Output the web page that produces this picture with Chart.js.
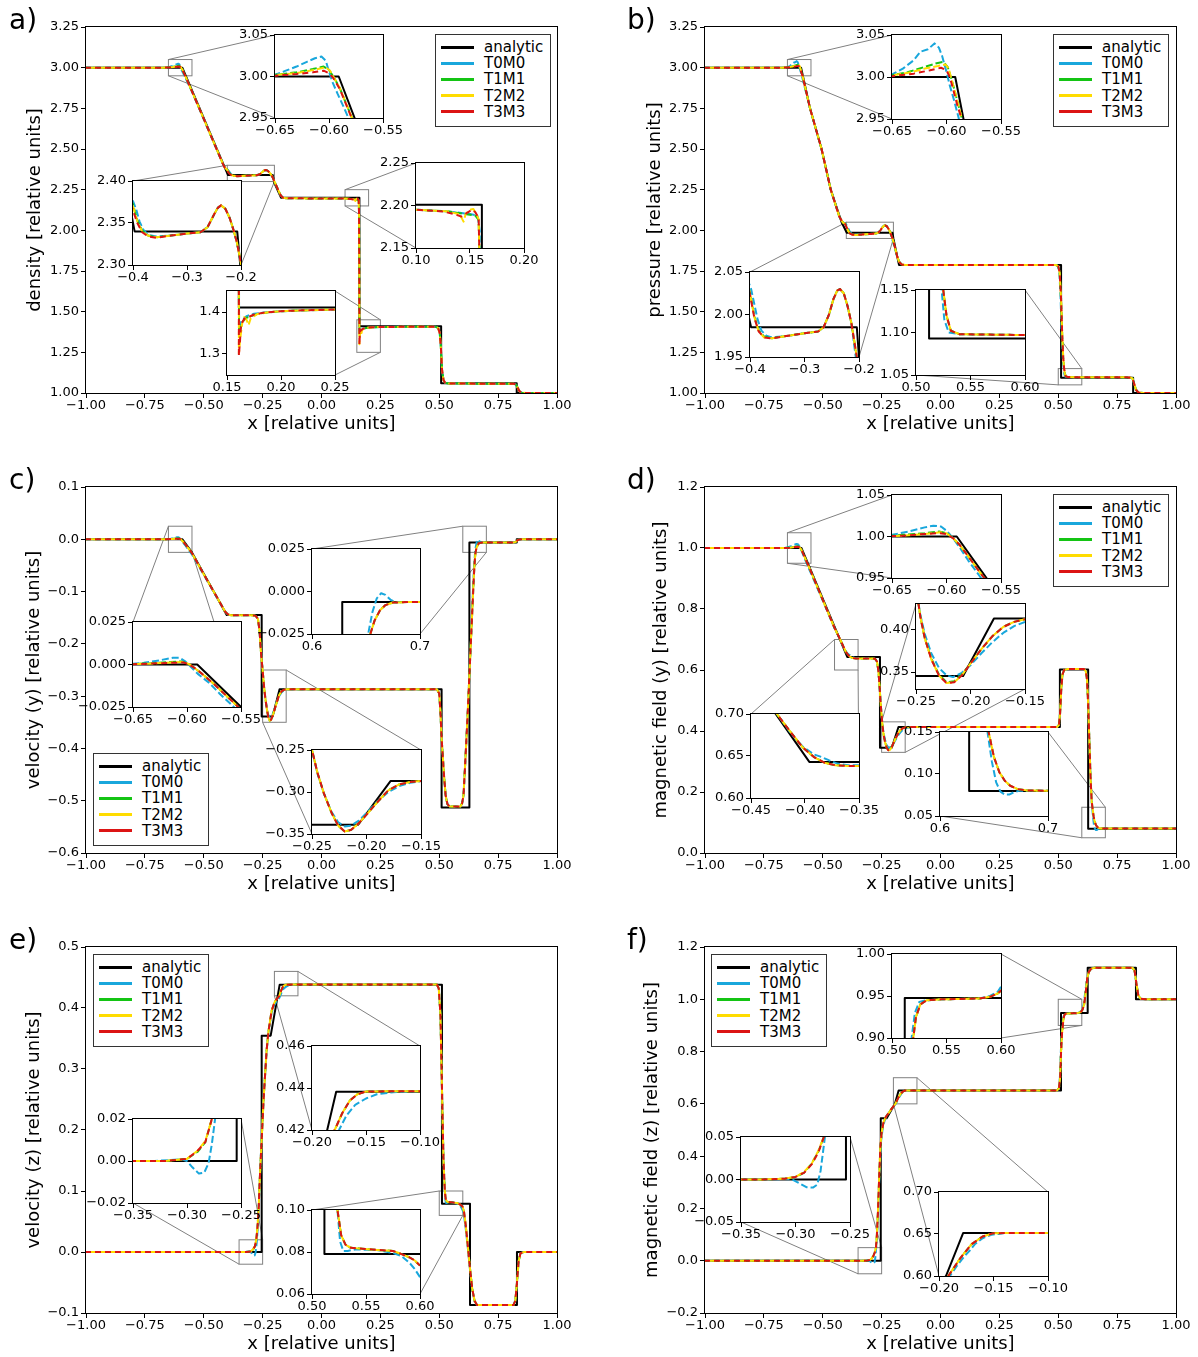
<!DOCTYPE html>
<html>
<head>
<meta charset="utf-8">
<script src="https://cdn.jsdelivr.net/npm/chart.js@4.4.1/dist/chart.umd.min.js"></script>
<style>
  body { margin: 0; background: #fff; }
  #fig { position: relative; width: 1198px; height: 1357px; overflow: hidden; font-family: "DejaVu Sans", sans-serif; }
  #fig canvas { position: absolute; }
  .plabel { position: absolute; font-size: 28px; line-height: 28px; color: #000; }
  .legend { position: absolute; width: 114px; height: 91px; border: 1px solid #333; background: #fff; }
  .legend .ln { position: absolute; left: 5px; width: 33px; height: 3px; }
  .legend .tx { position: absolute; left: 48px; font-size: 15px; line-height: 18px; color: #000; }
</style>
</head>
<body>
<div id="fig"></div>
<script>
// ---------- series names / ticks ----------
const seriesNames = ["analytic", "T0M0", "T1M1", "T2M2", "T3M3"];

const xTicksMain = [-1, -0.75, -0.5, -0.25, 0, 0.25, 0.5, 0.75, 1];
const densTicks = [1, 1.25, 1.5, 1.75, 2, 2.25, 2.5, 2.75, 3, 3.25];
const presTicks = [1, 1.25, 1.5, 1.75, 2, 2.25, 2.5, 2.75, 3, 3.25];
const vyTicks = [-0.6, -0.5, -0.4, -0.3, -0.2, -0.1, 0, 0.1];
const byTicks = [0, 0.2, 0.4, 0.6, 0.8, 1, 1.2];
const vzTicks = [-0.1, 0, 0.1, 0.2, 0.3, 0.4, 0.5];
const bzTicks = [-0.2, 0, 0.2, 0.4, 0.6, 0.8, 1, 1.2];

// inset ticks
const tkX065 = [-0.65, -0.6, -0.55];
const tkX04 = [-0.4, -0.3, -0.2];
const tkX010 = [0.1, 0.15, 0.2];
const tkX015 = [0.15, 0.2, 0.25];
const tkX050 = [0.5, 0.55, 0.6];
const tkX06 = [0.6, 0.7];
const tkX025 = [-0.25, -0.2, -0.15];
const tkX045 = [-0.45, -0.4, -0.35];
const tkX035 = [-0.35, -0.3, -0.25];
const tkX020 = [-0.2, -0.15, -0.1];
const tkY295 = [2.95, 3, 3.05];
const tkY230 = [2.3, 2.35, 2.4];
const tkY215 = [2.15, 2.2, 2.25];
const tkY13 = [1.3, 1.4];
const tkY195 = [1.95, 2, 2.05];
const tkY105 = [1.05, 1.1, 1.15];
const tkY0025 = [-0.025, 0, 0.025];
const tkY035 = [-0.35, -0.3, -0.25];
const tkY095 = [0.95, 1, 1.05];
const tkY035b = [0.35, 0.4];
const tkY060 = [0.6, 0.65, 0.7];
const tkY005 = [0.05, 0.1, 0.15];
const tkY002 = [-0.02, 0, 0.02];
const tkY042 = [0.42, 0.44, 0.46];
const tkY006 = [0.06, 0.08, 0.1];
const tkY090 = [0.9, 0.95, 1];
const tkY005b = [-0.05, 0, 0.05];

// ---------- a) density ----------
const densAnalytic = [[-1,3],[-0.591,3],[-0.397,2.34],[-0.207,2.34],[-0.2,2.29],[-0.172,2.201],[0.161,2.201],[0.161,1.411],[0.508,1.411],[0.508,1.06],[0.829,1.06],[0.829,1],[1,1]];
const densT0M0 = [[-1,3],[-0.67,3],[-0.65,3.002],[-0.64,3.007],[-0.63,3.012],[-0.62,3.018],[-0.613,3.022],[-0.607,3.024],[-0.603,3.019],[-0.6,3.006],[-0.597,2.994],[-0.592,2.979],[-0.587,2.965],[-0.582,2.95],[-0.55,2.853],[-0.5,2.684],[-0.45,2.514],[-0.42,2.413],[-0.41,2.387],[-0.4,2.376],[-0.394,2.366],[-0.388,2.352],[-0.381,2.342],[-0.372,2.336],[-0.357,2.334],[-0.33,2.335],[-0.3,2.3375],[-0.275,2.339],[-0.262,2.345],[-0.25,2.36],[-0.243,2.368],[-0.237,2.371],[-0.229,2.367],[-0.221,2.356],[-0.214,2.342],[-0.208,2.328],[-0.203,2.312],[-0.199,2.298],[-0.19,2.268],[-0.18,2.236],[-0.172,2.212],[-0.163,2.2],[-0.15,2.197],[0,2.196],[0.1,2.195],[0.13,2.193],[0.15,2.19],[0.157,2.188],[0.159,2.17],[0.1603,2],[0.161,1.6],[0.1612,1.375],[0.162,1.37],[0.164,1.381],[0.168,1.39],[0.175,1.396],[0.19,1.4],[0.21,1.403],[0.25,1.406],[0.4,1.407],[0.485,1.407],[0.495,1.4],[0.502,1.37],[0.507,1.28],[0.512,1.14],[0.518,1.08],[0.525,1.063],[0.54,1.058],[0.815,1.057],[0.825,1.053],[0.832,1.035],[0.84,1.012],[0.85,1.002],[0.87,1],[1,1]];
const densT1M1 = [[-1,3],[-0.67,3],[-0.65,3.002],[-0.63,3.005],[-0.615,3.009],[-0.605,3.012],[-0.6,3.008],[-0.596,3],[-0.59,2.986],[-0.585,2.97],[-0.579,2.951],[-0.55,2.854],[-0.5,2.685],[-0.45,2.515],[-0.42,2.413],[-0.41,2.386],[-0.4,2.372],[-0.392,2.353],[-0.383,2.341],[-0.372,2.335],[-0.357,2.333],[-0.33,2.335],[-0.3,2.3375],[-0.275,2.339],[-0.262,2.345],[-0.25,2.36],[-0.243,2.368],[-0.237,2.371],[-0.229,2.367],[-0.221,2.356],[-0.214,2.342],[-0.208,2.328],[-0.203,2.312],[-0.199,2.298],[-0.19,2.268],[-0.18,2.236],[-0.172,2.212],[-0.163,2.2],[-0.15,2.197],[0,2.196],[0.1,2.195],[0.13,2.193],[0.145,2.19],[0.155,2.188],[0.158,2.183],[0.1595,2.1],[0.1605,1.8],[0.161,1.45],[0.1612,1.35],[0.162,1.355],[0.164,1.375],[0.167,1.385],[0.172,1.39],[0.18,1.397],[0.2,1.402],[0.22,1.404],[0.25,1.406],[0.4,1.407],[0.485,1.407],[0.495,1.4],[0.502,1.37],[0.507,1.28],[0.512,1.14],[0.518,1.08],[0.525,1.063],[0.54,1.058],[0.815,1.057],[0.825,1.053],[0.832,1.035],[0.84,1.012],[0.85,1.002],[0.87,1],[1,1]];
const densT2M2 = [[-1,3],[-0.67,3],[-0.65,3.002],[-0.63,3.004],[-0.614,3.008],[-0.603,3.011],[-0.599,3.007],[-0.596,3],[-0.59,2.986],[-0.585,2.97],[-0.579,2.951],[-0.55,2.854],[-0.5,2.685],[-0.45,2.515],[-0.42,2.413],[-0.41,2.386],[-0.4,2.37],[-0.392,2.352],[-0.383,2.34],[-0.372,2.335],[-0.357,2.333],[-0.33,2.335],[-0.3,2.3375],[-0.275,2.339],[-0.262,2.345],[-0.25,2.36],[-0.243,2.368],[-0.237,2.371],[-0.229,2.367],[-0.221,2.356],[-0.214,2.342],[-0.208,2.328],[-0.203,2.312],[-0.199,2.298],[-0.19,2.268],[-0.18,2.236],[-0.172,2.212],[-0.163,2.2],[-0.15,2.197],[0,2.196],[0.1,2.195],[0.13,2.193],[0.139,2.19],[0.142,2.186],[0.144,2.181],[0.146,2.19],[0.15,2.195],[0.153,2.196],[0.156,2.19],[0.158,2.184],[0.1595,2.1],[0.1605,1.8],[0.161,1.45],[0.161,1.3],[0.162,1.33],[0.164,1.372],[0.166,1.388],[0.168,1.382],[0.17,1.369],[0.172,1.385],[0.178,1.395],[0.19,1.4],[0.21,1.403],[0.25,1.406],[0.4,1.407],[0.485,1.407],[0.495,1.4],[0.502,1.37],[0.507,1.28],[0.512,1.14],[0.518,1.08],[0.525,1.063],[0.54,1.058],[0.815,1.057],[0.825,1.053],[0.832,1.035],[0.84,1.012],[0.85,1.002],[0.87,1],[1,1]];
const densT3M3 = [[-1,3],[-0.67,3],[-0.65,3.001],[-0.63,3.003],[-0.615,3.005],[-0.605,3.007],[-0.6,3.004],[-0.596,2.998],[-0.59,2.985],[-0.585,2.969],[-0.579,2.95],[-0.55,2.854],[-0.5,2.685],[-0.45,2.515],[-0.42,2.412],[-0.41,2.383],[-0.4,2.365],[-0.392,2.35],[-0.383,2.339],[-0.372,2.334],[-0.357,2.3325],[-0.33,2.335],[-0.3,2.3375],[-0.275,2.339],[-0.262,2.345],[-0.25,2.36],[-0.243,2.368],[-0.237,2.371],[-0.229,2.367],[-0.221,2.356],[-0.214,2.342],[-0.208,2.328],[-0.203,2.312],[-0.199,2.298],[-0.19,2.268],[-0.18,2.236],[-0.172,2.212],[-0.163,2.2],[-0.15,2.197],[0,2.196],[0.1,2.195],[0.125,2.193],[0.135,2.19],[0.142,2.187],[0.148,2.192],[0.152,2.195],[0.155,2.192],[0.158,2.185],[0.1595,2.1],[0.1605,1.8],[0.161,1.45],[0.161,1.296],[0.162,1.33],[0.163,1.37],[0.166,1.384],[0.17,1.388],[0.175,1.394],[0.185,1.399],[0.2,1.402],[0.22,1.404],[0.25,1.406],[0.4,1.407],[0.485,1.407],[0.495,1.4],[0.502,1.37],[0.507,1.28],[0.512,1.14],[0.518,1.08],[0.525,1.063],[0.54,1.058],[0.815,1.057],[0.825,1.053],[0.832,1.035],[0.84,1.012],[0.85,1.002],[0.87,1],[1,1]];

// ---------- b) pressure ----------
const presAnalytic = [[-1,3],[-0.592,3],[-0.554,2.75],[-0.505,2.5],[-0.466,2.25],[-0.42,2.05],[-0.398,1.985],[-0.204,1.985],[-0.2,1.95],[-0.176,1.787],[0.512,1.787],[0.512,1.093],[0.818,1.093],[0.818,1],[1,1]];
const presT0M0 = [[-1,3],[-0.67,3],[-0.65,3.003],[-0.64,3.01],[-0.63,3.02],[-0.624,3.03],[-0.617,3.033],[-0.611,3.04],[-0.607,3.035],[-0.604,3.025],[-0.6,3.006],[-0.597,2.99],[-0.593,2.972],[-0.589,2.952],[-0.554,2.75],[-0.505,2.5],[-0.466,2.25],[-0.43,2.087],[-0.415,2.05],[-0.405,2.042],[-0.398,2.03],[-0.392,2.012],[-0.386,1.994],[-0.379,1.981],[-0.37,1.975],[-0.36,1.973],[-0.33,1.975],[-0.3,1.978],[-0.275,1.98],[-0.265,1.985],[-0.255,2],[-0.247,2.018],[-0.24,2.028],[-0.235,2.03],[-0.228,2.025],[-0.221,2.01],[-0.214,1.99],[-0.21,1.97],[-0.206,1.95],[-0.2,1.92],[-0.19,1.87],[-0.183,1.833],[-0.175,1.805],[-0.165,1.79],[-0.15,1.787],[0.49,1.787],[0.499,1.78],[0.505,1.74],[0.51,1.58],[0.515,1.35],[0.52,1.2],[0.5235,1.15],[0.526,1.115],[0.53,1.1],[0.54,1.098],[0.6,1.097],[0.805,1.096],[0.815,1.09],[0.822,1.06],[0.83,1.02],[0.84,1.003],[0.86,1],[1,1]];
const presT1M1 = [[-1,3],[-0.67,3],[-0.65,3.002],[-0.635,3.006],[-0.62,3.012],[-0.61,3.016],[-0.603,3.018],[-0.599,3.012],[-0.596,3],[-0.593,2.986],[-0.589,2.966],[-0.586,2.951],[-0.554,2.75],[-0.505,2.5],[-0.466,2.25],[-0.43,2.086],[-0.415,2.049],[-0.405,2.04],[-0.399,2.022],[-0.392,1.998],[-0.384,1.981],[-0.374,1.974],[-0.36,1.972],[-0.33,1.975],[-0.3,1.978],[-0.275,1.98],[-0.265,1.985],[-0.255,2],[-0.247,2.018],[-0.24,2.028],[-0.235,2.03],[-0.228,2.025],[-0.221,2.01],[-0.214,1.99],[-0.209,1.97],[-0.204,1.95],[-0.198,1.92],[-0.19,1.875],[-0.183,1.835],[-0.175,1.805],[-0.165,1.79],[-0.15,1.787],[0.49,1.787],[0.5,1.78],[0.506,1.74],[0.512,1.58],[0.517,1.35],[0.521,1.22],[0.525,1.15],[0.528,1.12],[0.532,1.102],[0.54,1.098],[0.6,1.097],[0.805,1.096],[0.815,1.09],[0.822,1.06],[0.83,1.02],[0.84,1.003],[0.86,1],[1,1]];
const presT2M2 = [[-1,3],[-0.67,3],[-0.65,3.002],[-0.635,3.005],[-0.62,3.01],[-0.608,3.013],[-0.601,3.015],[-0.598,3.01],[-0.596,3],[-0.593,2.986],[-0.589,2.966],[-0.586,2.951],[-0.554,2.75],[-0.505,2.5],[-0.466,2.25],[-0.43,2.086],[-0.415,2.049],[-0.405,2.039],[-0.399,2.021],[-0.392,1.997],[-0.384,1.98],[-0.374,1.973],[-0.36,1.972],[-0.33,1.975],[-0.3,1.978],[-0.275,1.98],[-0.265,1.985],[-0.255,2],[-0.247,2.018],[-0.24,2.028],[-0.235,2.03],[-0.228,2.025],[-0.221,2.01],[-0.214,1.99],[-0.209,1.97],[-0.204,1.95],[-0.198,1.92],[-0.19,1.875],[-0.183,1.835],[-0.175,1.805],[-0.165,1.79],[-0.15,1.787],[0.49,1.787],[0.5,1.78],[0.506,1.74],[0.512,1.58],[0.517,1.35],[0.521,1.22],[0.525,1.15],[0.528,1.12],[0.532,1.102],[0.54,1.098],[0.6,1.097],[0.805,1.096],[0.815,1.09],[0.822,1.06],[0.83,1.02],[0.84,1.003],[0.86,1],[1,1]];
const presT3M3 = [[-1,3],[-0.67,3],[-0.65,3.001],[-0.63,3.004],[-0.615,3.008],[-0.605,3.011],[-0.6,3.008],[-0.597,3],[-0.594,2.986],[-0.59,2.966],[-0.586,2.95],[-0.554,2.75],[-0.505,2.5],[-0.466,2.25],[-0.43,2.085],[-0.415,2.048],[-0.405,2.038],[-0.399,2.02],[-0.392,1.996],[-0.384,1.98],[-0.374,1.973],[-0.36,1.972],[-0.33,1.975],[-0.3,1.978],[-0.275,1.98],[-0.265,1.985],[-0.255,2],[-0.247,2.018],[-0.24,2.028],[-0.235,2.03],[-0.228,2.025],[-0.221,2.01],[-0.214,1.99],[-0.209,1.97],[-0.204,1.95],[-0.198,1.92],[-0.19,1.875],[-0.183,1.835],[-0.175,1.805],[-0.165,1.79],[-0.15,1.787],[0.49,1.787],[0.5,1.78],[0.506,1.74],[0.512,1.58],[0.517,1.35],[0.521,1.22],[0.525,1.15],[0.528,1.12],[0.532,1.102],[0.54,1.098],[0.6,1.097],[0.805,1.096],[0.815,1.09],[0.822,1.06],[0.83,1.02],[0.84,1.003],[0.86,1],[1,1]];

// ---------- c) velocity (y) ----------
const vyAnalytic = [[-1,0],[-0.5905,0],[-0.55,-0.025],[-0.5,-0.066],[-0.45,-0.106],[-0.4025,-0.1448],[-0.254,-0.1448],[-0.254,-0.339],[-0.2076,-0.339],[-0.178,-0.287],[0.51,-0.287],[0.51,-0.513],[0.628,-0.513],[0.628,-0.0062],[0.829,-0.0062],[0.829,0],[1,0]];
const vyT0M0 = [[-1,0],[-0.66,0],[-0.64,0.001],[-0.625,0.0025],[-0.613,0.004],[-0.607,0.004],[-0.602,0.002],[-0.597,-0.001],[-0.59,-0.0055],[-0.58,-0.0105],[-0.57,-0.017],[-0.56,-0.023],[-0.55,-0.029],[-0.5,-0.068],[-0.45,-0.107],[-0.42,-0.13],[-0.408,-0.139],[-0.398,-0.1437],[-0.385,-0.1452],[-0.3,-0.1452],[-0.28,-0.146],[-0.27,-0.152],[-0.263,-0.175],[-0.258,-0.21],[-0.254,-0.232],[-0.25,-0.25],[-0.245,-0.278],[-0.239,-0.302],[-0.232,-0.324],[-0.226,-0.336],[-0.22,-0.341],[-0.214,-0.34],[-0.207,-0.334],[-0.2,-0.325],[-0.19,-0.311],[-0.18,-0.3],[-0.17,-0.293],[-0.16,-0.289],[-0.15,-0.287],[0.49,-0.287],[0.5,-0.295],[0.505,-0.33],[0.51,-0.38],[0.52,-0.45],[0.527,-0.49],[0.535,-0.507],[0.545,-0.511],[0.59,-0.511],[0.597,-0.505],[0.603,-0.49],[0.61,-0.43],[0.62,-0.34],[0.63,-0.24],[0.64,-0.13],[0.646,-0.07],[0.65,-0.04],[0.652,-0.025],[0.656,-0.012],[0.66,-0.004],[0.664,-0.001],[0.668,-0.002],[0.673,-0.005],[0.678,-0.0063],[0.69,-0.0062],[0.815,-0.0062],[0.825,-0.005],[0.832,-0.002],[0.84,-0.0003],[0.85,0],[1,0]];
const vyT1M1 = [[-1,0],[-0.66,0],[-0.635,0.0006],[-0.615,0.0015],[-0.605,0.0018],[-0.599,0.0005],[-0.592,-0.0025],[-0.585,-0.006],[-0.575,-0.0115],[-0.565,-0.0175],[-0.55,-0.0265],[-0.5,-0.067],[-0.45,-0.106],[-0.42,-0.13],[-0.408,-0.139],[-0.398,-0.1435],[-0.385,-0.1452],[-0.3,-0.1452],[-0.28,-0.146],[-0.27,-0.152],[-0.263,-0.175],[-0.258,-0.21],[-0.254,-0.232],[-0.25,-0.25],[-0.245,-0.277],[-0.239,-0.302],[-0.232,-0.325],[-0.226,-0.34],[-0.22,-0.347],[-0.214,-0.345],[-0.207,-0.337],[-0.2,-0.327],[-0.19,-0.312],[-0.18,-0.298],[-0.17,-0.291],[-0.16,-0.288],[-0.15,-0.287],[0.49,-0.287],[0.5,-0.295],[0.505,-0.33],[0.51,-0.38],[0.52,-0.45],[0.527,-0.49],[0.535,-0.507],[0.545,-0.511],[0.59,-0.511],[0.597,-0.505],[0.603,-0.49],[0.61,-0.43],[0.62,-0.34],[0.63,-0.24],[0.64,-0.14],[0.647,-0.07],[0.651,-0.04],[0.654,-0.025],[0.658,-0.017],[0.663,-0.011],[0.668,-0.008],[0.675,-0.0065],[0.69,-0.0062],[0.815,-0.0062],[0.825,-0.005],[0.832,-0.002],[0.84,-0.0003],[0.85,0],[1,0]];
const vyT2M2 = [[-1,0],[-0.66,0],[-0.635,0.0005],[-0.615,0.0012],[-0.604,0.0015],[-0.598,0.0002],[-0.592,-0.0025],[-0.585,-0.006],[-0.575,-0.0115],[-0.565,-0.0175],[-0.55,-0.0265],[-0.5,-0.067],[-0.45,-0.106],[-0.42,-0.13],[-0.408,-0.139],[-0.398,-0.1435],[-0.385,-0.1452],[-0.3,-0.1452],[-0.28,-0.146],[-0.27,-0.152],[-0.263,-0.175],[-0.258,-0.21],[-0.254,-0.232],[-0.25,-0.25],[-0.245,-0.277],[-0.239,-0.302],[-0.232,-0.325],[-0.226,-0.34],[-0.22,-0.347],[-0.214,-0.345],[-0.207,-0.337],[-0.2,-0.327],[-0.19,-0.312],[-0.18,-0.298],[-0.17,-0.291],[-0.16,-0.288],[-0.15,-0.287],[0.49,-0.287],[0.5,-0.295],[0.505,-0.33],[0.51,-0.38],[0.52,-0.45],[0.527,-0.49],[0.535,-0.507],[0.545,-0.511],[0.59,-0.511],[0.597,-0.505],[0.603,-0.49],[0.61,-0.43],[0.62,-0.34],[0.63,-0.24],[0.64,-0.14],[0.647,-0.07],[0.651,-0.04],[0.654,-0.025],[0.658,-0.017],[0.663,-0.011],[0.668,-0.008],[0.675,-0.0065],[0.69,-0.0062],[0.815,-0.0062],[0.825,-0.005],[0.832,-0.002],[0.84,-0.0003],[0.85,0],[1,0]];
const vyT3M3 = [[-1,0],[-0.66,0],[-0.635,0.0005],[-0.615,0.001],[-0.603,0.0012],[-0.598,0],[-0.592,-0.0025],[-0.585,-0.006],[-0.575,-0.0115],[-0.565,-0.0175],[-0.55,-0.0265],[-0.5,-0.067],[-0.45,-0.106],[-0.42,-0.13],[-0.408,-0.139],[-0.398,-0.1435],[-0.385,-0.1452],[-0.3,-0.1452],[-0.28,-0.146],[-0.27,-0.152],[-0.263,-0.175],[-0.258,-0.21],[-0.254,-0.232],[-0.25,-0.25],[-0.245,-0.277],[-0.239,-0.302],[-0.232,-0.325],[-0.226,-0.34],[-0.22,-0.347],[-0.214,-0.345],[-0.207,-0.337],[-0.2,-0.327],[-0.19,-0.312],[-0.18,-0.298],[-0.17,-0.291],[-0.16,-0.288],[-0.15,-0.287],[0.49,-0.287],[0.5,-0.295],[0.505,-0.33],[0.51,-0.38],[0.52,-0.45],[0.527,-0.49],[0.535,-0.507],[0.545,-0.511],[0.59,-0.511],[0.597,-0.505],[0.603,-0.49],[0.61,-0.43],[0.62,-0.34],[0.63,-0.24],[0.64,-0.14],[0.647,-0.07],[0.651,-0.04],[0.654,-0.025],[0.658,-0.017],[0.663,-0.011],[0.668,-0.008],[0.675,-0.0065],[0.69,-0.0062],[0.815,-0.0062],[0.825,-0.005],[0.832,-0.002],[0.84,-0.0003],[0.85,0],[1,0]];

// ---------- d) magnetic field (y) ----------
const byAnalytic = [[-1,1],[-0.5906,1],[-0.396,0.643],[-0.257,0.643],[-0.257,0.3453],[-0.2068,0.3453],[-0.1785,0.413],[0.507,0.413],[0.507,0.602],[0.627,0.602],[0.627,0.0798],[1,0.0798]];
const byT0M0 = [[-1,1],[-0.66,1],[-0.65,1.002],[-0.635,1.006],[-0.62,1.011],[-0.612,1.013],[-0.605,1.012],[-0.6,1.007],[-0.594,0.998],[-0.588,0.987],[-0.58,0.971],[-0.57,0.953],[-0.563,0.94],[-0.5,0.828],[-0.45,0.737],[-0.426,0.7],[-0.413,0.677],[-0.402,0.661],[-0.392,0.652],[-0.385,0.649],[-0.378,0.645],[-0.37,0.641],[-0.36,0.639],[-0.29,0.638],[-0.278,0.637],[-0.27,0.628],[-0.264,0.6],[-0.259,0.55],[-0.255,0.5],[-0.25,0.45],[-0.246,0.417],[-0.242,0.395],[-0.236,0.372],[-0.229,0.355],[-0.222,0.346],[-0.216,0.344],[-0.208,0.349],[-0.2,0.358],[-0.19,0.372],[-0.18,0.385],[-0.17,0.396],[-0.16,0.404],[-0.15,0.409],[-0.13,0.413],[0.495,0.413],[0.503,0.42],[0.508,0.46],[0.513,0.54],[0.518,0.585],[0.525,0.6],[0.54,0.603],[0.61,0.603],[0.617,0.596],[0.622,0.57],[0.627,0.49],[0.632,0.37],[0.637,0.25],[0.641,0.18],[0.644,0.15],[0.648,0.115],[0.652,0.09],[0.656,0.079],[0.66,0.0755],[0.664,0.0755],[0.668,0.078],[0.673,0.08],[1,0.08]];
const byT1M1 = [[-1,1],[-0.66,1],[-0.64,1.002],[-0.62,1.004],[-0.607,1.006],[-0.6,1.004],[-0.594,0.998],[-0.588,0.99],[-0.58,0.976],[-0.57,0.958],[-0.563,0.946],[-0.5,0.83],[-0.45,0.738],[-0.426,0.7],[-0.413,0.678],[-0.402,0.66],[-0.392,0.649],[-0.382,0.642],[-0.372,0.639],[-0.36,0.638],[-0.29,0.638],[-0.278,0.637],[-0.27,0.628],[-0.264,0.6],[-0.259,0.55],[-0.255,0.5],[-0.25,0.45],[-0.246,0.415],[-0.242,0.39],[-0.236,0.366],[-0.229,0.347],[-0.222,0.338],[-0.215,0.339],[-0.208,0.347],[-0.2,0.36],[-0.19,0.377],[-0.18,0.392],[-0.17,0.403],[-0.16,0.409],[-0.15,0.412],[-0.12,0.413],[0.495,0.413],[0.503,0.42],[0.508,0.46],[0.513,0.54],[0.518,0.585],[0.525,0.6],[0.54,0.603],[0.61,0.603],[0.617,0.596],[0.622,0.57],[0.627,0.49],[0.632,0.37],[0.637,0.25],[0.642,0.17],[0.645,0.15],[0.65,0.12],[0.655,0.102],[0.66,0.092],[0.665,0.086],[0.672,0.082],[0.68,0.0805],[0.7,0.08],[1,0.08]];
const byT2M2 = [[-1,1],[-0.66,1],[-0.64,1.001],[-0.62,1.003],[-0.606,1.005],[-0.6,1.004],[-0.594,0.998],[-0.588,0.99],[-0.58,0.976],[-0.57,0.958],[-0.563,0.946],[-0.5,0.83],[-0.45,0.738],[-0.426,0.7],[-0.413,0.678],[-0.402,0.66],[-0.392,0.649],[-0.382,0.642],[-0.372,0.639],[-0.36,0.638],[-0.29,0.638],[-0.278,0.637],[-0.27,0.628],[-0.264,0.6],[-0.259,0.55],[-0.255,0.5],[-0.25,0.45],[-0.246,0.415],[-0.242,0.39],[-0.236,0.365],[-0.229,0.346],[-0.222,0.337],[-0.215,0.338],[-0.208,0.346],[-0.2,0.36],[-0.19,0.377],[-0.18,0.392],[-0.17,0.403],[-0.16,0.409],[-0.15,0.412],[-0.12,0.413],[0.495,0.413],[0.503,0.42],[0.508,0.46],[0.513,0.54],[0.518,0.585],[0.525,0.6],[0.54,0.603],[0.61,0.603],[0.617,0.596],[0.622,0.57],[0.627,0.49],[0.632,0.37],[0.637,0.25],[0.642,0.17],[0.645,0.15],[0.65,0.12],[0.655,0.102],[0.66,0.092],[0.665,0.086],[0.672,0.082],[0.68,0.0805],[0.7,0.08],[1,0.08]];
const byT3M3 = [[-1,1],[-0.66,1],[-0.64,1.001],[-0.62,1.003],[-0.607,1.004],[-0.6,1.003],[-0.594,0.998],[-0.588,0.99],[-0.58,0.976],[-0.57,0.958],[-0.563,0.946],[-0.5,0.83],[-0.45,0.738],[-0.426,0.7],[-0.413,0.678],[-0.402,0.66],[-0.392,0.649],[-0.382,0.642],[-0.372,0.639],[-0.36,0.638],[-0.29,0.638],[-0.278,0.637],[-0.27,0.628],[-0.264,0.6],[-0.259,0.55],[-0.255,0.5],[-0.25,0.45],[-0.246,0.415],[-0.242,0.39],[-0.236,0.365],[-0.229,0.346],[-0.222,0.337],[-0.215,0.338],[-0.208,0.346],[-0.2,0.36],[-0.19,0.377],[-0.18,0.392],[-0.17,0.403],[-0.16,0.409],[-0.15,0.412],[-0.12,0.413],[0.495,0.413],[0.503,0.42],[0.508,0.46],[0.513,0.54],[0.518,0.585],[0.525,0.6],[0.54,0.603],[0.61,0.603],[0.617,0.596],[0.622,0.57],[0.627,0.49],[0.632,0.37],[0.637,0.25],[0.642,0.17],[0.645,0.15],[0.65,0.12],[0.655,0.102],[0.66,0.092],[0.665,0.086],[0.672,0.082],[0.68,0.0805],[0.7,0.08],[1,0.08]];

// ---------- e) velocity (z) ----------
const vzAnalytic = [[-1,0],[-0.254,0],[-0.254,0.3546],[-0.2158,0.3546],[-0.1776,0.4382],[0.5115,0.4382],[0.5115,0.079],[0.6306,0.079],[0.6306,-0.087],[0.83,-0.087],[0.83,0],[1,0]];
const vzT0M0 = [[-1,0],[-0.33,0],[-0.315,0.0005],[-0.305,0.0008],[-0.3,0],[-0.295,-0.003],[-0.289,-0.006],[-0.284,-0.0055],[-0.28,-0.001],[-0.277,0.008],[-0.274,0.02],[-0.27,0.045],[-0.265,0.085],[-0.26,0.135],[-0.254,0.19],[-0.246,0.252],[-0.238,0.3],[-0.233,0.33],[-0.225,0.36],[-0.212,0.392],[-0.2,0.405],[-0.19,0.412],[-0.18,0.416],[-0.175,0.42],[-0.168,0.427],[-0.16,0.432],[-0.15,0.435],[-0.14,0.437],[-0.125,0.438],[-0.1,0.4385],[0.49,0.4385],[0.498,0.432],[0.505,0.39],[0.512,0.26],[0.518,0.15],[0.5236,0.1],[0.526,0.085],[0.529,0.0805],[0.533,0.0805],[0.54,0.0812],[0.56,0.081],[0.575,0.0795],[0.583,0.078],[0.59,0.075],[0.595,0.072],[0.6,0.068],[0.605,0.06],[0.612,0.04],[0.62,0.012],[0.63,-0.027],[0.64,-0.062],[0.65,-0.081],[0.66,-0.087],[0.815,-0.087],[0.823,-0.08],[0.83,-0.05],[0.837,-0.015],[0.845,-0.002],[0.86,0],[1,0]];
const vzT1M1 = [[-1,0],[-0.32,0],[-0.3,0.001],[-0.29,0.0045],[-0.283,0.009],[-0.277,0.02],[-0.272,0.04],[-0.267,0.07],[-0.262,0.12],[-0.254,0.184],[-0.246,0.25],[-0.238,0.3],[-0.233,0.331],[-0.225,0.362],[-0.212,0.395],[-0.2,0.409],[-0.19,0.415],[-0.179,0.42],[-0.172,0.428],[-0.165,0.434],[-0.158,0.437],[-0.15,0.4383],[-0.12,0.4385],[0.49,0.4385],[0.498,0.432],[0.505,0.39],[0.512,0.26],[0.518,0.15],[0.5236,0.1],[0.527,0.088],[0.531,0.0835],[0.536,0.082],[0.56,0.081],[0.575,0.0805],[0.583,0.079],[0.59,0.0775],[0.595,0.076],[0.6,0.0735],[0.605,0.066],[0.612,0.045],[0.62,0.015],[0.63,-0.025],[0.64,-0.06],[0.65,-0.08],[0.66,-0.087],[0.815,-0.087],[0.823,-0.08],[0.83,-0.05],[0.837,-0.015],[0.845,-0.002],[0.86,0],[1,0]];
const vzT2M2 = [[-1,0],[-0.32,0],[-0.3,0.001],[-0.29,0.005],[-0.283,0.0095],[-0.277,0.02],[-0.272,0.04],[-0.267,0.07],[-0.262,0.12],[-0.254,0.184],[-0.246,0.25],[-0.238,0.3],[-0.233,0.331],[-0.225,0.362],[-0.212,0.395],[-0.2,0.409],[-0.19,0.415],[-0.179,0.42],[-0.172,0.428],[-0.165,0.434],[-0.158,0.437],[-0.15,0.4383],[-0.12,0.4385],[0.49,0.4385],[0.498,0.432],[0.505,0.39],[0.512,0.26],[0.518,0.15],[0.5236,0.1],[0.527,0.088],[0.531,0.0835],[0.536,0.082],[0.56,0.081],[0.575,0.0805],[0.583,0.079],[0.59,0.0775],[0.595,0.076],[0.6,0.0735],[0.605,0.066],[0.612,0.045],[0.62,0.015],[0.63,-0.025],[0.64,-0.06],[0.65,-0.08],[0.66,-0.087],[0.815,-0.087],[0.823,-0.08],[0.83,-0.05],[0.837,-0.015],[0.845,-0.002],[0.86,0],[1,0]];
const vzT3M3 = [[-1,0],[-0.32,0],[-0.3,0.001],[-0.29,0.005],[-0.283,0.009],[-0.277,0.02],[-0.272,0.04],[-0.267,0.07],[-0.262,0.12],[-0.254,0.184],[-0.246,0.25],[-0.238,0.3],[-0.233,0.331],[-0.225,0.362],[-0.212,0.395],[-0.2,0.409],[-0.19,0.415],[-0.179,0.42],[-0.172,0.428],[-0.165,0.434],[-0.158,0.437],[-0.15,0.4383],[-0.12,0.4385],[0.49,0.4385],[0.498,0.432],[0.505,0.39],[0.512,0.26],[0.518,0.15],[0.5236,0.1],[0.527,0.088],[0.531,0.0835],[0.536,0.082],[0.56,0.081],[0.575,0.0805],[0.583,0.079],[0.59,0.0775],[0.595,0.076],[0.6,0.0735],[0.605,0.066],[0.612,0.045],[0.62,0.015],[0.63,-0.025],[0.64,-0.06],[0.65,-0.08],[0.66,-0.087],[0.815,-0.087],[0.823,-0.08],[0.83,-0.05],[0.837,-0.015],[0.845,-0.002],[0.86,0],[1,0]];

// ---------- f) magnetic field (z) ----------
const bzAnalytic = [[-1,0],[-0.2537,0],[-0.2537,0.545],[-0.2285,0.545],[-0.1936,0.6],[-0.1778,0.6512],[0.5117,0.6512],[0.5117,0.9476],[0.625,0.9476],[0.625,1.121],[0.83,1.121],[0.83,1],[1,1]];
const bzT0M0 = [[-1,0],[-0.33,0],[-0.31,0.0005],[-0.303,0],[-0.297,-0.004],[-0.29,-0.009],[-0.284,-0.0095],[-0.28,-0.006],[-0.277,0.01],[-0.274,0.04],[-0.271,0.07],[-0.267,0.14],[-0.262,0.26],[-0.257,0.38],[-0.252,0.46],[-0.245,0.51],[-0.235,0.543],[-0.222,0.562],[-0.207,0.582],[-0.19,0.6],[-0.183,0.613],[-0.177,0.623],[-0.172,0.63],[-0.167,0.638],[-0.16,0.645],[-0.152,0.649],[-0.14,0.6512],[0.495,0.6512],[0.503,0.66],[0.507,0.7],[0.511,0.8],[0.515,0.87],[0.518,0.9],[0.521,0.93],[0.525,0.943],[0.532,0.945],[0.545,0.946],[0.58,0.947],[0.59,0.95],[0.597,0.955],[0.602,0.965],[0.608,0.98],[0.615,1.03],[0.622,1.08],[0.63,1.105],[0.64,1.117],[0.655,1.121],[0.815,1.121],[0.824,1.11],[0.832,1.06],[0.84,1.015],[0.85,1.002],[0.87,1],[1,1]];
const bzT1M1 = [[-1,0],[-0.33,0],[-0.31,0.001],[-0.3,0.003],[-0.292,0.008],[-0.285,0.019],[-0.279,0.033],[-0.274,0.05],[-0.27,0.1],[-0.265,0.2],[-0.26,0.33],[-0.255,0.44],[-0.25,0.49],[-0.242,0.53],[-0.232,0.55],[-0.22,0.565],[-0.205,0.585],[-0.1915,0.6],[-0.18,0.622],[-0.17,0.638],[-0.16,0.647],[-0.15,0.651],[-0.12,0.6512],[0.495,0.6512],[0.503,0.66],[0.508,0.7],[0.512,0.8],[0.516,0.87],[0.5195,0.9],[0.522,0.925],[0.526,0.94],[0.532,0.945],[0.545,0.946],[0.58,0.947],[0.59,0.949],[0.597,0.953],[0.603,0.96],[0.61,0.98],[0.617,1.03],[0.623,1.08],[0.63,1.105],[0.64,1.117],[0.655,1.121],[0.815,1.121],[0.824,1.11],[0.832,1.06],[0.84,1.015],[0.85,1.002],[0.87,1],[1,1]];
const bzT2M2 = [[-1,0],[-0.33,0],[-0.31,0.001],[-0.3,0.003],[-0.292,0.009],[-0.285,0.019],[-0.279,0.034],[-0.274,0.05],[-0.27,0.1],[-0.265,0.2],[-0.26,0.33],[-0.255,0.44],[-0.25,0.49],[-0.242,0.53],[-0.232,0.55],[-0.22,0.565],[-0.205,0.585],[-0.1915,0.6],[-0.18,0.622],[-0.17,0.638],[-0.16,0.647],[-0.15,0.651],[-0.12,0.6512],[0.495,0.6512],[0.503,0.66],[0.508,0.7],[0.512,0.8],[0.516,0.87],[0.5195,0.9],[0.522,0.925],[0.526,0.94],[0.532,0.945],[0.545,0.946],[0.58,0.947],[0.59,0.949],[0.597,0.953],[0.603,0.96],[0.61,0.98],[0.617,1.03],[0.623,1.08],[0.63,1.105],[0.64,1.117],[0.655,1.121],[0.815,1.121],[0.824,1.11],[0.832,1.06],[0.84,1.015],[0.85,1.002],[0.87,1],[1,1]];
const bzT3M3 = [[-1,0],[-0.33,0],[-0.31,0.001],[-0.3,0.003],[-0.292,0.008],[-0.285,0.018],[-0.279,0.032],[-0.274,0.05],[-0.27,0.1],[-0.265,0.2],[-0.26,0.33],[-0.255,0.44],[-0.25,0.49],[-0.242,0.53],[-0.232,0.55],[-0.22,0.565],[-0.205,0.585],[-0.1915,0.6],[-0.18,0.622],[-0.17,0.638],[-0.16,0.647],[-0.15,0.651],[-0.12,0.6512],[0.495,0.6512],[0.503,0.66],[0.508,0.7],[0.512,0.8],[0.516,0.87],[0.5195,0.9],[0.522,0.925],[0.526,0.94],[0.532,0.945],[0.545,0.946],[0.58,0.947],[0.59,0.949],[0.597,0.953],[0.603,0.96],[0.61,0.98],[0.617,1.03],[0.623,1.08],[0.63,1.105],[0.64,1.117],[0.655,1.121],[0.815,1.121],[0.824,1.11],[0.832,1.06],[0.84,1.015],[0.85,1.002],[0.87,1],[1,1]];

// ---------- styles ----------
const seriesColors = ["#000000", "#19a7dc", "#14c414", "#ffdc00", "#dc1414"];
const seriesDash = [[], [7, 3], [7, 3], [7, 3], [6, 4]];
const seriesDashOffset = [0, 0, 3, 6, 1];
const seriesOrder = [4, 3, 2, 1, 0];

Chart.defaults.font.family = '"DejaVu Sans", sans-serif';
Chart.defaults.color = "#000";

// ---------- panel layout ----------
const panels = [
  { label: "a)", labelPos: [9, 6], yTitle: "density [relative units]", titleX: 36,
    series: [densAnalytic, densT0M0, densT1M1, densT2M2, densT3M3],
    plot: [86, 27, 557, 393], y: [1, 3.25], yTicks: densTicks, yDec: 2, legend: [435, 34],
    insets: [
      { box: [275, 35, 383, 118], x: [-0.65, -0.55], y: [2.95, 3.05], xt: tkX065, yt: tkY295, xd: 2, yd: 2, locs: [2, 3] },
      { box: [133, 181, 241, 265], x: [-0.4, -0.2], y: [2.3, 2.4], xt: tkX04, yt: tkY230, xd: 1, yd: 2, locs: [2, 4] },
      { box: [416, 163, 524, 248], x: [0.1, 0.2], y: [2.15, 2.25], xt: tkX010, yt: tkY215, xd: 2, yd: 2, locs: [2, 3] },
      { box: [227, 291, 335, 375], x: [0.15, 0.25], y: [1.25, 1.45], xt: tkX015, yt: tkY13, xd: 2, yd: 1, locs: [1, 4] }
    ] },
  { label: "b)", labelPos: [627, 6], yTitle: "pressure [relative units]", titleX: 656,
    series: [presAnalytic, presT0M0, presT1M1, presT2M2, presT3M3],
    plot: [705, 27, 1176, 393], y: [1, 3.25], yTicks: presTicks, yDec: 2, legend: [1053, 34],
    insets: [
      { box: [892, 35, 1001, 119], x: [-0.65, -0.55], y: [2.95, 3.05], xt: tkX065, yt: tkY295, xd: 2, yd: 2, locs: [2, 3] },
      { box: [750, 272, 859, 357], x: [-0.4, -0.2], y: [1.95, 2.05], xt: tkX04, yt: tkY195, xd: 1, yd: 2, locs: [2, 4] },
      { box: [916, 290, 1025, 375], x: [0.5, 0.6], y: [1.05, 1.15], xt: tkX050, yt: tkY105, xd: 2, yd: 2, locs: [1, 3] }
    ] },
  { label: "c)", labelPos: [9, 466], yTitle: "velocity (y) [relative units]", titleX: 35,
    series: [vyAnalytic, vyT0M0, vyT1M1, vyT2M2, vyT3M3],
    plot: [86, 487, 557, 853], y: [-0.6, 0.1], yTicks: vyTicks, yDec: 1, legend: [93, 753],
    insets: [
      { box: [133, 622, 241, 707], x: [-0.65, -0.55], y: [-0.025, 0.025], xt: tkX065, yt: tkY0025, xd: 2, yd: 3, locs: [2, 4] },
      { box: [312, 549, 420, 634], x: [0.6, 0.7], y: [-0.025, 0.025], xt: tkX06, yt: tkY0025, xd: 1, yd: 3, locs: [2, 4] },
      { box: [312, 750, 421, 834], x: [-0.25, -0.15], y: [-0.35, -0.25], xt: tkX025, yt: tkY035, xd: 2, yd: 2, locs: [1, 3] }
    ] },
  { label: "d)", labelPos: [627, 466], yTitle: "magnetic field (y) [relative units]", titleX: 662,
    series: [byAnalytic, byT0M0, byT1M1, byT2M2, byT3M3],
    plot: [705, 487, 1176, 853], y: [0, 1.2], yTicks: byTicks, yDec: 1, legend: [1053, 494],
    insets: [
      { box: [892, 495, 1001, 578], x: [-0.65, -0.55], y: [0.95, 1.05], xt: tkX065, yt: tkY095, xd: 2, yd: 2, locs: [2, 3] },
      { box: [916, 604, 1025, 689], x: [-0.25, -0.15], y: [0.33, 0.43], xt: tkX025, yt: tkY035b, xd: 2, yd: 2, locs: [2, 4] },
      { box: [751, 714, 859, 798], x: [-0.45, -0.35], y: [0.6, 0.7], xt: tkX045, yt: tkY060, xd: 2, yd: 2, locs: [2, 4] },
      { box: [940, 732, 1048, 816], x: [0.6, 0.7], y: [0.05, 0.15], xt: tkX06, yt: tkY005, xd: 1, yd: 2, locs: [1, 3] }
    ] },
  { label: "e)", labelPos: [9, 926], yTitle: "velocity (z) [relative units]", titleX: 35,
    series: [vzAnalytic, vzT0M0, vzT1M1, vzT2M2, vzT3M3],
    plot: [86, 947, 557, 1313], y: [-0.1, 0.5], yTicks: vzTicks, yDec: 1, legend: [93, 954],
    insets: [
      { box: [133, 1119, 241, 1203], x: [-0.35, -0.25], y: [-0.02, 0.02], xt: tkX035, yt: tkY002, xd: 2, yd: 2, locs: [1, 3] },
      { box: [312, 1046, 420, 1130], x: [-0.2, -0.1], y: [0.42, 0.46], xt: tkX020, yt: tkY042, xd: 2, yd: 2, locs: [1, 3] },
      { box: [312, 1210, 420, 1294], x: [0.5, 0.6], y: [0.06, 0.1], xt: tkX050, yt: tkY006, xd: 2, yd: 2, locs: [2, 4] }
    ] },
  { label: "f)", labelPos: [627, 926], yTitle: "magnetic field (z) [relative units]", titleX: 653,
    series: [bzAnalytic, bzT0M0, bzT1M1, bzT2M2, bzT3M3],
    plot: [705, 947, 1176, 1313], y: [-0.2, 1.2], yTicks: bzTicks, yDec: 1, legend: [711, 954],
    insets: [
      { box: [892, 954, 1001, 1038], x: [0.5, 0.6], y: [0.9, 1], xt: tkX050, yt: tkY090, xd: 2, yd: 2, locs: [1, 4] },
      { box: [741, 1137, 850, 1222], x: [-0.35, -0.25], y: [-0.05, 0.05], xt: tkX035, yt: tkY005b, xd: 2, yd: 2, locs: [1, 3] },
      { box: [939, 1192, 1048, 1276], x: [-0.2, -0.1], y: [0.6, 0.7], xt: tkX020, yt: tkY060, xd: 2, yd: 2, locs: [1, 3] }
    ] }
];

// ---------- helpers ----------
const fig = document.getElementById("fig");

function fmt(v, dec) {
  if (Math.abs(v) < 1e-9) v = 0;
  const s = Math.abs(v).toFixed(dec);
  return v < 0 ? "\u2212" + s : s;
}

function makeCanvas(left, top, w, h) {
  const c = document.createElement("canvas");
  c.width = w; c.height = h;
  c.style.left = left + "px"; c.style.top = top + "px";
  c.style.width = w + "px"; c.style.height = h + "px";
  fig.appendChild(c);
  return c;
}

function makeDatasets(series) {
  return series.map((pts, i) => ({
    label: seriesNames[i],
    data: pts.map(p => ({ x: p[0], y: p[1] })),
    borderColor: seriesColors[i],
    borderWidth: 2,
    borderDash: seriesDash[i],
    borderDashOffset: seriesDashOffset[i],
    borderJoinStyle: "round",
    pointRadius: 0,
    tension: 0,
    fill: false,
    order: seriesOrder[i]
  }));
}

function axisOpts(range, ticks, dec, size, isX, titleText) {
  return {
    type: "linear",
    min: range[0], max: range[1],
    afterBuildTicks: s => { s.ticks = ticks.map(v => ({ value: v })); },
    afterFit: s => { if (isX) s.height = size; else s.width = size; },
    ticks: { callback: v => fmt(v, dec), font: { size: 13 }, color: "#000", padding: isX ? 0 : 2, maxRotation: 0, autoSkip: false },
    grid: { drawOnChartArea: false, drawTicks: true, tickLength: 5, color: "#000" },
    border: { display: false },
    title: titleText ? { display: true, text: titleText, font: { size: 18 }, color: "#000", padding: 0 } : { display: false }
  };
}

function corners(l, t, r, b) {
  return { 1: [r, t], 2: [l, t], 3: [l, b], 4: [r, b] };
}

const framePlugin = {
  id: "frame",
  afterDatasetsDraw(chart) {
    const a = chart.chartArea, ctx = chart.ctx;
    ctx.save();
    ctx.strokeStyle = "#000";
    ctx.lineWidth = 1;
    const l = Math.round(a.left) - 0.5, t = Math.round(a.top) - 0.5;
    const r = Math.round(a.right) + 0.5, b = Math.round(a.bottom) + 0.5;
    ctx.strokeRect(l, t, r - l, b - t);
    ctx.restore();
  }
};

const whitePlugin = {
  id: "whiteArea",
  beforeDraw(chart) {
    const a = chart.chartArea, ctx = chart.ctx;
    ctx.save();
    ctx.fillStyle = "#fff";
    ctx.fillRect(a.left, a.top, a.right - a.left, a.bottom - a.top);
    ctx.restore();
  }
};

// zoom rectangles and connectors to the insets
function zoomPlugin(p, ox, oy) {
  return {
    id: "zoomMarks",
    beforeDatasetsDraw(chart) {
      const { ctx, scales: { x, y } } = chart;
      ctx.save();
      ctx.strokeStyle = "#808080";
      ctx.lineWidth = 1;
      p.insets.forEach(ins => {
        const rx0 = x.getPixelForValue(ins.x[0]), rx1 = x.getPixelForValue(ins.x[1]);
        const ry0 = y.getPixelForValue(ins.y[1]), ry1 = y.getPixelForValue(ins.y[0]);
        ctx.strokeRect(rx0, ry0, rx1 - rx0, ry1 - ry0);
        const rc = corners(rx0, ry0, rx1, ry1);
        const b = ins.box;
        const ic = corners(b[0] - ox, b[1] - oy, b[2] - ox, b[3] - oy);
        ins.locs.forEach(l => {
          ctx.beginPath();
          ctx.moveTo(ic[l][0], ic[l][1]);
          ctx.lineTo(rc[l][0], rc[l][1]);
          ctx.stroke();
        });
      });
      ctx.restore();
    }
  };
}

function addMain(p) {
  const [L, T, R, B] = p.plot;
  const left = Math.round(p.titleX - 11);
  const yW = L - left;
  const padTop = 12, padRight = 22, xH = 42;
  const w = yW + (R - L) + padRight;
  const h = padTop + (B - T) + xH;
  const cv = makeCanvas(left, T - padTop, w, h);
  new Chart(cv, {
    type: "line",
    data: { datasets: makeDatasets(p.series) },
    options: {
      responsive: false, animation: false, devicePixelRatio: 1, events: [],
      layout: { padding: { left: 0, top: padTop, right: padRight, bottom: 0 } },
      plugins: { legend: { display: false }, tooltip: { enabled: false } },
      scales: {
        x: axisOpts([-1, 1], xTicksMain, 2, xH, true, "x [relative units]"),
        y: axisOpts(p.y, p.yTicks, p.yDec, yW, false, p.yTitle)
      }
    },
    plugins: [zoomPlugin(p, left, T - padTop), framePlugin]
  });
}

function addInset(p, ins) {
  const [L, T, R, B] = ins.box;
  const yW = 56, padTop = 10, padRight = 24, xH = 24;
  const cv = makeCanvas(L - yW, T - padTop, yW + (R - L) + padRight, padTop + (B - T) + xH);
  new Chart(cv, {
    type: "line",
    data: { datasets: makeDatasets(p.series) },
    options: {
      responsive: false, animation: false, devicePixelRatio: 1, events: [],
      layout: { padding: { left: 0, top: padTop, right: padRight, bottom: 0 } },
      plugins: { legend: { display: false }, tooltip: { enabled: false } },
      scales: {
        x: axisOpts(ins.x, ins.xt, ins.xd, xH, true, null),
        y: axisOpts(ins.y, ins.yt, ins.yd, yW, false, null)
      }
    },
    plugins: [whitePlugin, framePlugin]
  });
}

function addLegend(p) {
  const box = document.createElement("div");
  box.className = "legend";
  box.style.left = p.legend[0] + "px";
  box.style.top = p.legend[1] + "px";
  seriesNames.forEach((name, i) => {
    const rowY = 12 + i * 16.2;
    const ln = document.createElement("div");
    ln.className = "ln";
    ln.style.top = (rowY - 1.5) + "px";
    ln.style.background = seriesColors[i];
    const tx = document.createElement("div");
    tx.className = "tx";
    tx.style.top = (rowY - 9) + "px";
    tx.textContent = name;
    box.appendChild(ln);
    box.appendChild(tx);
  });
  fig.appendChild(box);
}

function addLabel(p) {
  const d = document.createElement("div");
  d.className = "plabel";
  d.style.left = p.labelPos[0] + "px";
  d.style.top = p.labelPos[1] + "px";
  d.textContent = p.label;
  fig.appendChild(d);
}

panels.forEach(addMain);
panels.forEach(p => p.insets.forEach(ins => addInset(p, ins)));
panels.forEach(addLegend);
panels.forEach(addLabel);
</script>
</body>
</html>
